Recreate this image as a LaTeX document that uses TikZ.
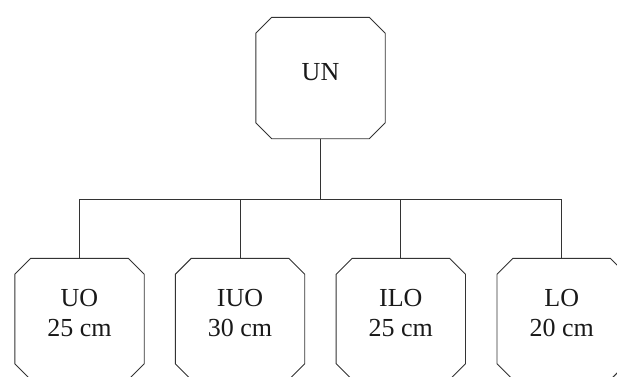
\documentclass[tikz,border=0pt]{standalone}
\usepackage{fontspec}
\setmainfont{Liberation Serif}
\begin{document}
\begin{tikzpicture}[x=1pt,y=1pt,
  unitbox/.style={rectangle, minimum width=129pt, minimum height=121pt,
    inner sep=0pt, draw=none},
  outline/.style={draw=black!80, line width=0.9pt, line join=miter},
  boxtext/.style={align=center, inner sep=0pt, text=black!90,
    font=\fontsize{26}{30}\selectfont},
  link/.style={draw=black!80, line width=0.9pt}]
\useasboundingbox (0,0) rectangle (617,-376);

% octagonal outline round a named node, corners cut by 16pt
\newcommand\octoutline[1]{%
  \draw[outline] ([xshift=16pt]#1.north west) -- ([xshift=-16pt]#1.north east)
    -- ([yshift=-16pt]#1.north east) -- ([yshift=16pt]#1.south east)
    -- ([xshift=-16pt]#1.south east) -- ([xshift=16pt]#1.south west)
    -- ([yshift=16pt]#1.south west) -- ([yshift=-16pt]#1.north west) -- cycle;}

% top unit
\node[unitbox] (un) at (320.5,-78) {};
\octoutline{un}
\node[boxtext] (untxt) at ([yshift=6pt]un.center) {UN};

% lower units
\node[unitbox] (uo)  at (79.5,-319) {};
\node[unitbox] (iuo) at (240,-319) {};
\node[unitbox] (ilo) at (400.8,-319) {};
\node[unitbox] (lo)  at (561.7,-319) {};
\octoutline{uo}
\octoutline{iuo}
\octoutline{ilo}
\octoutline{lo}

\node[boxtext] (uotxt)  at ([yshift=6pt]uo.center)  {UO\\25 cm};
\node[boxtext] (iuotxt) at ([yshift=6pt]iuo.center) {IUO\\30 cm};
\node[boxtext] (ilotxt) at ([yshift=6pt]ilo.center) {ILO\\25 cm};
\node[boxtext] (lotxt)  at ([yshift=6pt]lo.center)  {LO\\20 cm};

% tree connectors
\coordinate (bus) at (320.5,-199);
\draw[link] (un.south) -- (bus);
\draw[link] (uo.north) -- (uo.north |- bus) -- (lo.north |- bus) -- (lo.north);
\draw[link] (iuo.north) -- (iuo.north |- bus);
\draw[link] (ilo.north) -- (ilo.north |- bus);
\end{tikzpicture}
\end{document}
